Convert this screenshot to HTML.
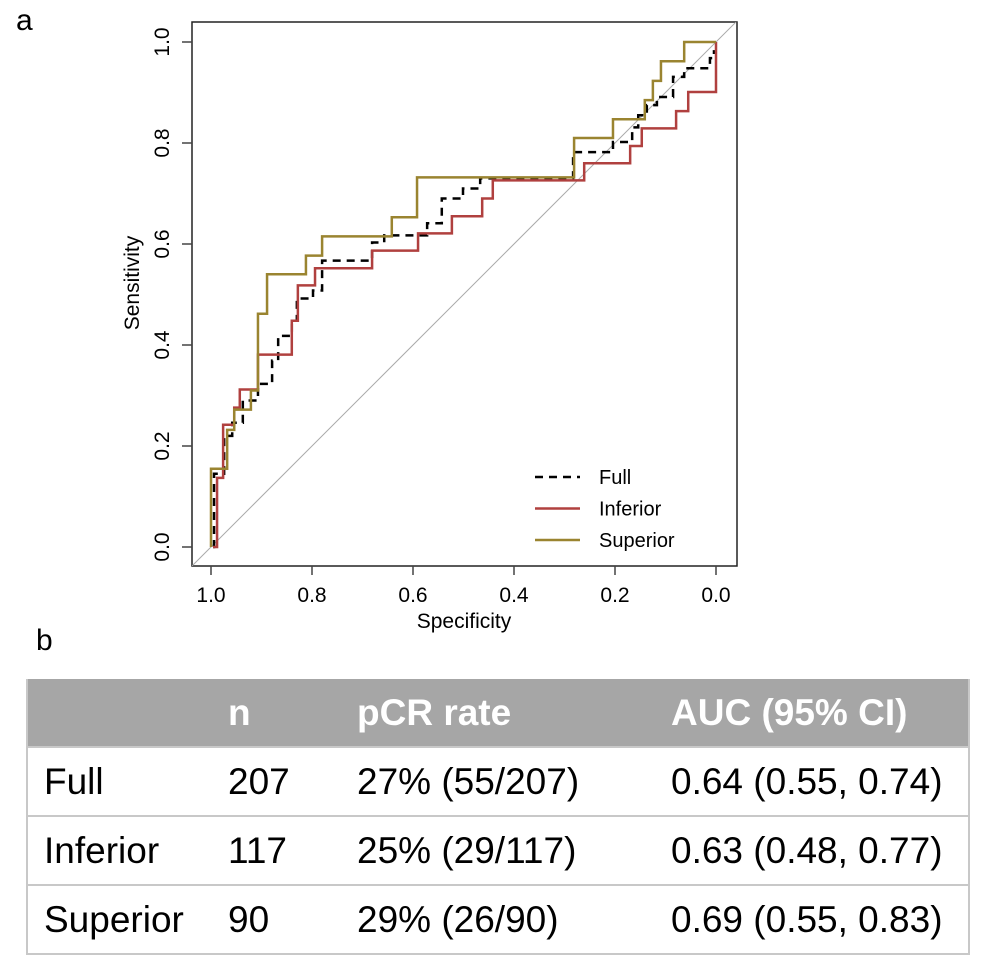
<!DOCTYPE html>
<html><head><meta charset="utf-8"><style>
body{margin:0;background:#fff;width:998px;height:968px;overflow:hidden;font-family:"Liberation Sans",sans-serif}
.lbl{position:absolute;font-size:30px;color:#000}
table{position:absolute;left:26px;top:679px;width:944px;border-collapse:collapse;font-family:"Liberation Sans",sans-serif;font-size:37px;table-layout:fixed}
td{height:67px;padding:0;border-top:2px solid #c8c8c8;vertical-align:middle;white-space:nowrap}
tr.h td{background:#a6a6a6;color:#fff;font-weight:bold;border-top:none}
table{border-left:2px solid #c8c8c8;border-right:2px solid #c8c8c8;border-bottom:2px solid #c8c8c8}
</style></head><body>
<div class="lbl" style="left:16px;top:4px">a</div>
<div class="lbl" style="left:36px;top:624px">b</div>
<svg id="chart" width="998" height="650" style="position:absolute;left:0;top:0" font-family="Liberation Sans, sans-serif"></svg>
<table>
<colgroup><col style="width:201px"><col style="width:129px"><col style="width:314px"><col></colgroup>
<tr class="h"><td></td><td>n</td><td>pCR rate</td><td>AUC (95% CI)</td></tr>
<tr><td style="padding-left:16px">Full</td><td>207</td><td>27% (55/207)</td><td>0.64 (0.55, 0.74)</td></tr>
<tr><td style="padding-left:16px">Inferior</td><td>117</td><td>25% (29/117)</td><td>0.63 (0.48, 0.77)</td></tr>
<tr><td style="padding-left:16px">Superior</td><td>90</td><td>29% (26/90)</td><td>0.69 (0.55, 0.83)</td></tr>
</table>
<script>
const ticks=[1.0,0.8,0.6,0.4,0.2,0.0];
const tickLabels=["1.0","0.8","0.6","0.4","0.2","0.0"];
const supSpec=[1.0,1.0,0.968,0.954,0.921,0.907,0.889,0.812,0.780,0.642,0.592,0.281,0.204,0.141,0.125,0.109,0.063,0];
const supSens=[0,0.155,0.232,0.272,0.310,0.462,0.540,0.577,0.615,0.653,0.732,0.810,0.847,0.885,0.923,0.962,1,1];
const infSpec=[0.996,0.988,0.976,0.954,0.943,0.907,0.840,0.828,0.794,0.681,0.590,0.523,0.463,0.442,0.261,0.170,0.147,0.079,0.055,0];
const infSens=[0,0.137,0.242,0.276,0.312,0.381,0.448,0.518,0.552,0.587,0.621,0.655,0.690,0.726,0.760,0.794,0.829,0.863,0.901,1.0];
const fullSpec=[0.996,0.994,0.974,0.958,0.937,0.907,0.879,0.867,0.840,0.830,0.798,0.780,0.681,0.657,0.572,0.543,0.501,0.467,0.283,0.204,0.166,0.154,0.137,0.117,0.085,0.063,0.012,0.004];
const fullSens=[0,0.145,0.220,0.246,0.290,0.323,0.369,0.418,0.448,0.492,0.508,0.567,0.603,0.617,0.641,0.690,0.710,0.730,0.782,0.802,0.831,0.855,0.875,0.891,0.931,0.948,0.968,0.984];
const legendNames=["Full","Inferior","Superior"];
const colors=["#000","#b0403f","#9a8430"];
const X=v=>716-v*505, Y=v=>547-v*505;
const svg=document.getElementById('chart');const NS='http://www.w3.org/2000/svg';
function mk(t,a,p){const e=document.createElementNS(NS,t);for(const k in a)e.setAttribute(k,a[k]);(p||svg).appendChild(e);return e;}
const box=mk('rect',{x:192,y:22,width:545,height:544,fill:'none',stroke:'#222','stroke-width':1.5});


const clip=mk('clipPath',{id:'c'});mk('rect',{x:192,y:22,width:545,height:544},clip);
const diag=mk('line',{x1:X(1.04),y1:Y(-0.04),x2:X(-0.04),y2:Y(1.04),stroke:'#aaa','stroke-width':1,'clip-path':'url(#c)'});


ticks.forEach((t,i)=>{
 const a=mk('line',{x1:X(t),y1:566,x2:X(t),y2:575,stroke:'#444','stroke-width':1.5});
 
 
 const l=mk('text',{x:X(t),y:602,'font-size':21,'text-anchor':'middle'});l.textContent=tickLabels[i];
 
 
 const b=mk('line',{x1:182,y1:Y(t),x2:192,y2:Y(t),stroke:'#444','stroke-width':1.5});
 
 
 const m=mk('text',{x:0,y:0,'font-size':21,'text-anchor':'middle',transform:`translate(169,${Y(t)}) rotate(-90)`});m.textContent=tickLabels[i];
 
 
});
const xt=mk('text',{x:464,y:628,'font-size':21,'text-anchor':'middle'});xt.textContent='Specificity';


const yt=mk('text',{x:0,y:0,'font-size':21,'text-anchor':'middle',transform:'translate(139,283) rotate(-90)'});yt.textContent='Sensitivity';


function step(sp,se){let d=`M${X(sp[0])},${Y(se[0])}`;for(let i=1;i<sp.length;i++){d+=` H${X(sp[i])} V${Y(se[i])}`;}return d;}
const series=[[fullSpec,fullSens,'curve-full'],[infSpec,infSens,'curve-inferior'],[supSpec,supSens,'curve-superior']];
series.forEach((s,i)=>{
 const p=mk('path',{d:step(s[0],s[1]),fill:'none',stroke:colors[i],'stroke-width':2.5});
 if(i==0)p.setAttribute('stroke-dasharray','8,6');
 
 
});
legendNames.forEach((n,i)=>{
 const y=477+i*31.5;
 const l=mk('line',{x1:535,y1:y,x2:580,y2:y,stroke:colors[i],'stroke-width':2.5});
 if(i==0)l.setAttribute('stroke-dasharray','8,6');
 
 
 const t=mk('text',{x:599,y:y+7,'font-size':20});t.textContent=n;
 
 
});
</script>
</body></html>
